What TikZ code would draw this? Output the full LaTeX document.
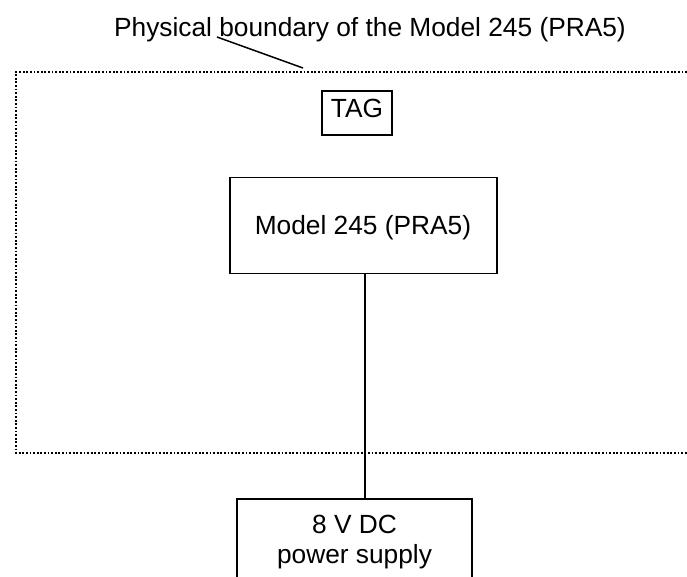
\documentclass[tikz,border=0pt]{standalone}
\usepackage{fontspec}
\setmainfont{Liberation Sans}
\begin{document}
\begin{tikzpicture}[x=1pt,y=-1pt,
  bx/.style={draw=black,line width=1.5pt,fill=white,inner sep=0pt},
  lbl/.style={inner sep=0pt,anchor=base,font=\fontsize{26.3}{30}\selectfont}]
\useasboundingbox (0,0) rectangle (687,576);
\fill[white] (0,0) rectangle (687,576);
\coordinate (tl) at (16,72);
\coordinate (tr) at (687,72);
\coordinate (bl) at (16,453);
\coordinate (br) at (687,453);
\draw[black,line width=1.7pt,dash pattern=on 1.8pt off 1.8pt] (tr) -- (tl) -- (bl) -- (br);
\node[lbl] (title) at (370,36) {Physical boundary of the Model 245 (PRA5)};
\coordinate (t1) at (217,37);
\coordinate (t2) at (303,68);
\draw[black,line width=1.5pt] (t1) -- (t2);
\node[bx,minimum width=70pt,minimum height=44pt] (tag) at (357,113) {};
\node[lbl] (tagt) at (357,117) {TAG};
\node[bx,minimum width=267pt,minimum height=96pt] (model) at (363.5,225.5) {};
\node[lbl] (modelt) at (363,234) {Model 245 (PRA5)};
\node[bx,minimum width=235pt,minimum height=90pt,anchor=north] (ps) at (354.5,498) {};
\node[lbl] (ps1) at (354.5,533) {8 V DC};
\node[lbl] (ps2) at (354.5,563) {power supply};
\coordinate (c1) at (365,273.5);
\coordinate (c2) at (365,498);
\draw[black,line width=1.5pt] (c1) -- (c2);
\end{tikzpicture}
\end{document}
